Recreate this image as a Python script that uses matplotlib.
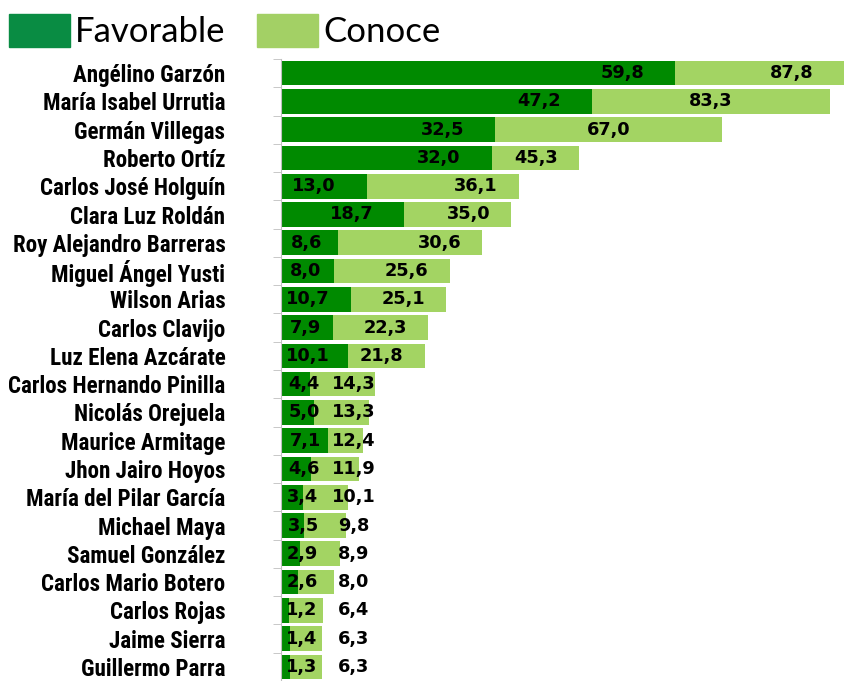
import matplotlib
matplotlib.use('Agg')
import matplotlib.pyplot as plt
from matplotlib import font_manager
from matplotlib.patches import Patch

names = ['Angélino Garzón', 'María Isabel Urrutia', 'Germán Villegas', 'Roberto Ortíz',
         'Carlos José Holguín', 'Clara Luz Roldán', 'Roy Alejandro Barreras',
         'Miguel Ángel Yusti', 'Wilson Arias', 'Carlos Clavijo', 'Luz Elena Azcárate',
         'Carlos Hernando Pinilla', 'Nicolás Orejuela', 'Maurice Armitage',
         'Jhon Jairo Hoyos', 'María del Pilar García', 'Michael Maya', 'Samuel González',
         'Carlos Mario Botero', 'Carlos Rojas', 'Jaime Sierra', 'Guillermo Parra']
favorable = [59.8, 47.2, 32.5, 32.0, 13.0, 18.7, 8.6, 8.0, 10.7, 7.9, 10.1,
             4.4, 5.0, 7.1, 4.6, 3.4, 3.5, 2.9, 2.6, 1.2, 1.4, 1.3]
conoce = [87.8, 83.3, 67.0, 45.3, 36.1, 35.0, 30.6, 25.6, 25.1, 22.3, 21.8,
          14.3, 13.3, 12.4, 11.9, 10.1, 9.8, 8.9, 8.0, 6.4, 6.3, 6.3]


def pick(fams):
    for f in fams:
        try:
            font_manager.findfont(font_manager.FontProperties(family=f),
                                  fallback_to_default=False)
            return f
        except ValueError:
            pass
    return 'DejaVu Sans'


name_font = pick(['Liberation Sans Narrow', 'Roboto Condensed', 'Liberation Sans'])
leg_font = pick(['Lato', 'Open Sans'])

dark = '#008A00'
light = '#A3D463'
xmax = 85.5

fig = plt.figure(figsize=(8.44, 6.81), dpi=100)
ax = fig.add_axes([281 / 844, 0, 563 / 844, 622 / 681])

y = list(range(len(names)))
ax.barh(y, conoce, height=0.87, color=light)
ax.barh(y, favorable, height=0.87, color=dark)

ax.set_xlim(0, xmax)
ax.set_ylim(len(names) - 0.5, -0.5)

for s in ['top', 'right', 'bottom']:
    ax.spines[s].set_visible(False)
ax.spines['left'].set_color('#BFBFBF')
ax.set_xticks([])
ax.set_yticks(y)
ax.set_yticklabels(names, fontsize=16.6, fontweight='bold', family=name_font)
ax.tick_params(axis='y', which='major', length=0, pad=40)
ax.set_yticks([i - 0.5 for i in range(len(names) + 1)], minor=True)
ax.tick_params(axis='y', which='minor', length=6, color='#BFBFBF')


def fmt(v):
    return f'{v:.1f}'.replace('.', ',')


for i, (f, c) in enumerate(zip(favorable, conoce)):
    ax.text(max(f - 8, 3.0 + 0.1 * f), i, fmt(f), ha='center', va='center',
            fontsize=12.8, fontweight='bold', family='DejaVu Sans')
    if c - f > 30:
        cx = (f + min(c, xmax)) / 2
    else:
        cx = min(max(c - 6.5, 11), xmax - 8)
    ax.text(cx, i, fmt(c), ha='center', va='center',
            fontsize=12.8, fontweight='bold', family='DejaVu Sans')

handles = [Patch(color='#098C43', label='Favorable'),
           Patch(color='#A3D065', label='Conoce')]
fig.legend(handles=handles, loc='upper left', bbox_to_anchor=(9 / 844, 1 - 14 / 681),
           ncol=2, frameon=False, prop={'family': leg_font, 'size': 25},
           handlelength=1.76, handleheight=1.1, handletextpad=0.15,
           columnspacing=0.9, borderpad=0, borderaxespad=0)

fig.savefig('out.png', dpi=100)
